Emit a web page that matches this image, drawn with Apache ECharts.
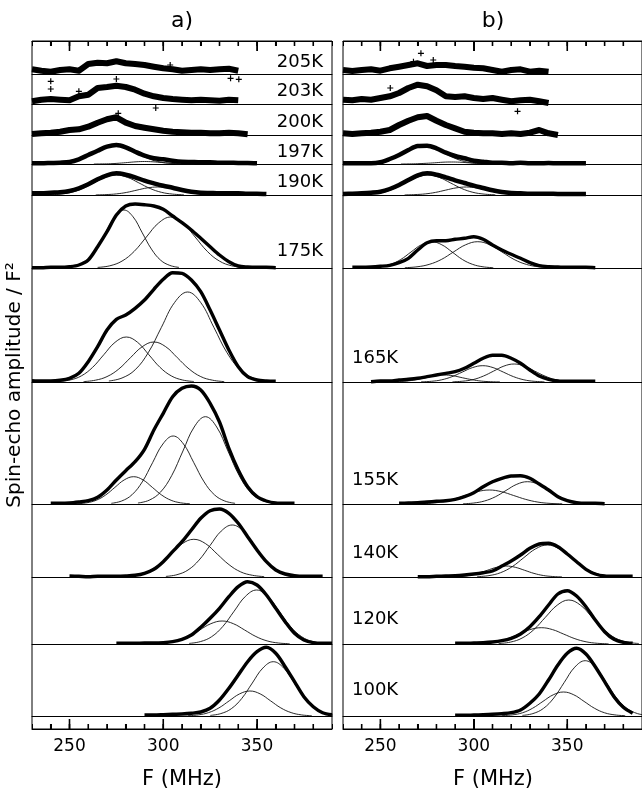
<!DOCTYPE html>
<html>
<head>
<meta charset="utf-8">
<script src="https://cdn.jsdelivr.net/npm/echarts@6/dist/echarts.min.js"></script>
<style>
html, body { margin: 0; padding: 0; background: #fff; }
#chart { width: 642px; height: 795px; }
</style>
</head>
<body>
<div id="chart"></div>
<script>
// one row per temperature, top to bottom
const temps = ['205K', '203K', '200K', '197K', '190K', '175K', '165K', '155K', '140K', '120K', '100K'];
const tickLabels = [250, 300, 350];
const minorTicks = [240, 250, 260, 270, 280, 290, 300, 310, 320, 330, 340, 350, 360, 370, 380];
const freqMin = 230, freqMax = 390, freqStep = 5;

// measured spin-echo amplitude, one value every 5 MHz from the start frequency
const startA = [230, 230, 230, 230, 230, 230, 230, 240, 250, 275, 290];
const echoA = [
    [4.7, 3.3, 2.3, 4, 4.7, 3.3, 10, 11.3, 10.7, 12.7, 10.7, 10, 9, 7.3, 5.7, 4.7, 3.3, 4, 4.7, 4, 4.7, 5.3, 3.3],
    [2.7, 4.3, 5, 4.3, 3.7, 7.7, 9.3, 16, 17, 18.3, 17, 14.3, 10.3, 7.7, 6, 5, 4.3, 3.7, 4.3, 3.7, 3.3, 4.3, 3.7],
    [1, 1.7, 2.3, 3.3, 5, 5.7, 8.3, 12.3, 15.7, 17.7, 12.3, 9, 7.3, 5.7, 4.3, 3.3, 2.7, 2.3, 2.3, 1.7, 1.7, 2.3, 1.7, 0.7],
    [0.7, 0.7, 1, 1.3, 2, 4.7, 9, 13.3, 17.3, 19, 16.7, 12.3, 8.3, 5.7, 4.7, 3.3, 2.3, 2, 1.7, 1.7, 1.3, 1.3, 1, 1, 0.7],
    [1.7, 1.7, 2.3, 2.7, 4, 6.7, 10.7, 15.7, 19.7, 21.7, 20.3, 17.7, 14.3, 11.7, 9.3, 7.3, 5, 3.3, 2.3, 2, 1.7, 1.7, 1.7, 1.3, 1.3, 1],
    [0.3, 0.3, 0.7, 0.7, 1.3, 3, 8, 21.3, 36.3, 53, 62, 64, 63.3, 62, 58.7, 52, 45.3, 38, 29.7, 21.3, 13, 6.3, 2, 1, 0.7, 0.7, 0.3],
    [1.3, 1, 1, 1.7, 3.7, 8.7, 20.3, 35.3, 52, 62.7, 67, 73.7, 82, 92.7, 102.7, 109.3, 108.7, 102, 90.3, 72, 52, 32, 15.3, 5.3, 2, 1, 0.7],
    [0.7, 0.7, 1, 2, 3.3, 6.7, 14, 24, 33.3, 42.3, 54.7, 74, 90.7, 107.3, 115.7, 118, 114, 100.7, 82, 55.7, 34, 17.3, 7.3, 3, 1, 0.7, 0.7],
    [1, 0.7, 0.3, 0.7, 0.7, 0.7, 1, 1.7, 3.7, 7.7, 15.3, 25.3, 35.3, 47, 58.7, 66.3, 68, 63.7, 53.7, 40.3, 27, 15.3, 7, 3, 1.3, 0.7, 0.7, 0.7],
    [0.7, 0.7, 0.7, 1, 1, 1.3, 2.3, 4.7, 9, 16.7, 25.7, 35.7, 47.3, 57.3, 62.3, 59, 49, 35.7, 22.3, 10.7, 4, 1.3, 0.7, 0.7],
    [1, 1, 1.3, 1.7, 2, 2.7, 4, 7.7, 16, 27.7, 41, 54.3, 64.3, 68.7, 62.7, 49.3, 34.3, 19.3, 9.3, 3.3, 1.3]
];
const startB = [230, 230, 230, 230, 230, 235, 245, 260, 270, 290, 290];
const echoB = [
    [4, 3, 4, 4.7, 3.3, 5.7, 7.3, 9, 10.7, 8, 9, 9, 8, 7.3, 6.3, 5.7, 4, 2.3, 4, 4.7, 2.3, 3.3, 2.3],
    [4.3, 3.7, 5, 4.3, 6, 7.7, 11, 16, 19.3, 17.7, 13.7, 7.7, 7, 7.7, 6, 5, 6, 4.3, 2.7, 3.7, 4.3, 2.7, 1],
    [1.7, 1, 1.7, 2.3, 3.3, 5, 10, 14.3, 17.7, 19, 14.3, 10, 6.7, 3.3, 2.3, 1.7, 1.7, 1, 1.7, 1, 2.3, 5, 1.7, 0],
    [0.7, 0.7, 0.7, 0.7, 1.7, 5, 9, 14, 18, 18.3, 15.7, 11.3, 8, 5.7, 3.3, 2.3, 1.3, 1.3, 0.7, 1.3, 0.7, 0.7, 1, 0.7, 0.7, 0.7, 0.7],
    [1, 1.3, 1.7, 2.3, 3.3, 6, 10, 15, 19.7, 21.7, 20.3, 17.7, 14.7, 12, 9.3, 7, 4.7, 3, 2, 1.7, 1.3, 1.3, 1.3, 1, 1, 1, 1],
    [0.7, 0.7, 1, 1.7, 2.7, 5.3, 9.7, 18, 25.3, 27.3, 27.3, 28.7, 29.7, 31.3, 28.7, 23, 18, 13.7, 9.7, 5.3, 2.3, 1.3, 1, 0.7, 0.7, 0.7, 0.3],
    [0.3, 1, 1, 2, 2.7, 3.7, 5.3, 7, 8.7, 10.3, 13.7, 18.7, 23.7, 26.7, 26.7, 23.7, 18.7, 12, 6, 2.7, 1, 0.7, 0.7, 0.7, 0.7],
    [0.7, 1, 1.3, 2, 2.7, 3.3, 4.7, 7.3, 11.3, 17.3, 22.3, 25.7, 28, 28.3, 25.7, 20, 14, 7.3, 3.3, 1.3, 0.7, 0.7, 0.3],
    [0.3, 0.3, 0.7, 1, 1.3, 2, 3, 4.3, 6, 11, 16, 22, 28.7, 33, 33.7, 30.3, 23, 15.3, 7.7, 3, 1, 0.7, 0.7, 0.7],
    [0.7, 0.7, 1, 1.3, 2, 3.3, 5.7, 10, 17.3, 27.3, 39, 50, 53.3, 48, 37.3, 24, 12.3, 4.7, 1.7, 0.7],
    [0.7, 0.7, 1, 1.3, 1.7, 2.3, 3.3, 6, 12.7, 22, 36, 51, 62.7, 67.7, 62, 49.3, 34.3, 19.3, 8.7, 2.7]
];

// stray echo points well off the trace, [MHz, amplitude]
const strayA = [
    [[303.7, 9], [335.9, -4.3], [340.3, -5.3]],
    [[240, 22.7], [240, 15], [255, 12.7], [275, 25], [296, -4]],
    [[276, 21.7]]
];
const strayB = [
    [[271.7, 20.7], [267.7, 12.3], [278.3, 14]],
    [[255.3, 16], [323.4, -7.3]],
    []
];

// fitted components, [MHz, amplitude]
const fitA = [
    [], [], [],
    [
        [[239.5, .2], [245.3, .8], [251, 2.5], [256.8, 6], [262.5, 11.2], [268.3, 16.3], [274, 18.5], [279.8, 16.3], [285.5, 11.2], [291.3, 6], [297, 2.5], [302.8, .8], [308.5, .2]],
        [[263, 0], [267.5, .1], [272, .3], [276.5, .8], [281, 1.5], [285.5, 2.2], [290, 2.5], [294.5, 2.2], [299, 1.5], [303.5, .8], [308, .3], [312.5, .1], [317, 0]]
    ],
    [
        [[239, .2], [245, .9], [251, 2.7], [257, 6.5], [263, 12.1], [269, 17.6], [275, 20], [281, 17.6], [287, 12.1], [293, 6.5], [299, 2.7], [305, .9], [311, .2]],
        [[264, .1], [269.5, .4], [275, 1.1], [280.5, 2.6], [286, 4.9], [291.5, 7.1], [297, 8], [302.5, 7.1], [308, 4.9], [313.5, 2.6], [319, 1.1], [324.5, .4], [330, .1]]
    ],
    [
        [[249.6, .6], [254.5, 2.6], [259.4, 7.8], [264.3, 18.9], [269.2, 35.2], [274.1, 51.2], [279, 58], [283.9, 51.2], [288.8, 35.2], [293.7, 18.9], [298.6, 7.8], [303.5, 2.6], [308.4, .6]],
        [[265, .6], [271.5, 2.2], [278, 6.9], [284.5, 16.6], [291, 31], [297.5, 45], [304, 51], [310.5, 45], [317, 31], [323.5, 16.6], [330, 6.9], [336.5, 2.2], [343, .6]]
    ],
    [
        [[244.3, .5], [250.3, 2], [256.3, 6.1], [262.3, 14.6], [268.3, 27.3], [274.3, 39.7], [280.3, 45], [286.3, 39.7], [292.3, 27.3], [298.3, 14.6], [304.3, 6.1], [310.3, 2], [316.3, .5]],
        [[257.5, .4], [263.8, 1.8], [270, 5.4], [276.3, 13], [282.5, 24.3], [288.8, 35.3], [295, 40], [301.3, 35.3], [307.5, 24.3], [313.8, 13], [320, 5.4], [326.3, 1.8], [332.5, .4]],
        [[271, 1], [278, 4], [285, 12.2], [292, 29.3], [299, 54.6], [306, 79.4], [313, 90], [320, 79.4], [327, 54.6], [334, 29.3], [341, 12.2], [348, 4], [355, 1]]
    ],
    [
        [[254.2, .3], [259.2, 1.2], [264.2, 3.7], [269.2, 8.9], [274.2, 16.6], [279.2, 24.1], [284.2, 27.3], [289.2, 24.1], [294.2, 16.6], [299.2, 8.9], [304.2, 3.7], [309.2, 1.2], [314.2, .3]],
        [[272.3, .7], [277.8, 3], [283.3, 9.2], [288.8, 22.1], [294.3, 41.3], [299.8, 60], [305.3, 68], [310.8, 60], [316.3, 41.3], [321.8, 22.1], [327.3, 9.2], [332.8, 3], [338.3, .7]],
        [[286.5, 1], [292.5, 3.8], [298.5, 11.8], [304.5, 28.4], [310.5, 53], [316.5, 77], [322.5, 87.3], [328.5, 77], [334.5, 53], [340.5, 28.4], [346.5, 11.8], [352.5, 3.8], [358.5, 1]]
    ],
    [
        [[278.8, .4], [285.1, 1.7], [291.3, 5.1], [297.6, 12.3], [303.8, 22.9], [310.1, 33.3], [316.3, 37.7], [322.6, 33.3], [328.8, 22.9], [335.1, 12.3], [341.3, 5.1], [347.6, 1.7], [353.8, .4]],
        [[301.4, .6], [307.3, 2.3], [313.2, 7], [319.1, 16.9], [325, 31.6], [330.9, 45.9], [336.8, 52], [342.7, 45.9], [348.6, 31.6], [354.5, 16.9], [360.4, 7], [366.3, 2.3], [372.2, .6]]
    ],
    [
        [[295.4, .3], [301.4, 1], [307.4, 3.1], [313.4, 7.5], [319.4, 14], [325.4, 20.3], [331.4, 23], [337.4, 20.3], [343.4, 14], [349.4, 7.5], [355.4, 3.1], [361.4, 1], [367.4, .3]],
        [[313.8, .6], [319.8, 2.4], [325.8, 7.3], [331.8, 17.6], [337.8, 32.8], [343.8, 47.6], [349.8, 54], [355.8, 47.6], [361.8, 32.8], [367.8, 17.6], [373.8, 7.3], [379.8, 2.4], [385.8, .6]]
    ],
    [
        [[313.2, .3], [318.7, 1.1], [324.2, 3.4], [329.7, 8.1], [335.2, 15.2], [340.7, 22.1], [346.2, 25], [351.7, 22.1], [357.2, 15.2], [362.7, 8.1], [368.2, 3.4], [373.7, 1.1], [379.2, .3]],
        [[325.1, .6], [330.7, 2.4], [336.3, 7.3], [341.9, 17.6], [347.5, 33], [353.1, 47.9], [358.7, 54.3], [364.3, 47.9], [369.9, 33], [375.5, 17.6], [381.1, 7.3], [386.7, 2.4], [392.3, .6]]
    ]
];
const fitB = [
    [], [], [],
    [
        [[240, .2], [245.5, .8], [251, 2.5], [256.5, 6], [262, 11.2], [267.5, 16.3], [273, 18.5], [278.5, 16.3], [284, 11.2], [289.5, 6], [295, 2.5], [300.5, .8], [306, .2]],
        [[261, 0], [265.5, .1], [270, .3], [274.5, .7], [279, 1.2], [283.5, 1.8], [288, 2], [292.5, 1.8], [297, 1.2], [301.5, .7], [306, .3], [310.5, .1], [315, 0]]
    ],
    [
        [[239.5, .2], [245.5, .9], [251.5, 2.7], [257.5, 6.5], [263.5, 12.1], [269.5, 17.6], [275.5, 20], [281.5, 17.6], [287.5, 12.1], [293.5, 6.5], [299.5, 2.7], [305.5, .9], [311.5, .2]],
        [[263, .1], [268.5, .4], [274, 1.1], [279.5, 2.6], [285, 4.9], [290.5, 7.1], [296, 8], [301.5, 7.1], [307, 4.9], [312.5, 2.6], [318, 1.1], [323.5, .4], [329, .1]]
    ],
    [
        [[244.4, .3], [249.9, 1.2], [255.4, 3.6], [260.9, 8.5], [266.4, 16], [271.9, 23.2], [277.4, 26.3], [282.9, 23.2], [288.4, 16], [293.9, 8.5], [299.4, 3.6], [304.9, 1.2], [310.4, .3]],
        [[263.1, .3], [269.6, 1.2], [276.1, 3.6], [282.6, 8.5], [289.1, 16], [295.6, 23.2], [302.1, 26.3], [308.6, 23.2], [315.1, 16], [321.6, 8.5], [328.1, 3.6], [334.6, 1.2], [341.1, .3]]
    ],
    [
        [[254, .1], [259, .3], [264, .9], [269, 2.3], [274, 4.2], [279, 6.2], [284, 7], [289, 6.2], [294, 4.2], [299, 2.3], [304, .9], [309, .3], [314, .1]],
        [[271.8, .2], [277.3, .7], [282.8, 2.2], [288.3, 5.3], [293.8, 9.9], [299.3, 14.4], [304.8, 16.3], [310.3, 14.4], [315.8, 9.9], [321.3, 5.3], [326.8, 2.2], [332.3, .7], [337.8, .2]],
        [[288.6, .2], [294.1, .8], [299.6, 2.4], [305.1, 5.9], [310.6, 10.9], [316.1, 15.9], [321.6, 18], [327.1, 15.9], [332.6, 10.9], [338.1, 5.9], [343.6, 2.4], [349.1, .8], [354.6, .2]]
    ],
    [
        [[269.3, .2], [275.8, .6], [282.3, 1.9], [288.8, 4.6], [295.3, 8.5], [301.8, 12.3], [308.3, 14], [314.8, 12.3], [321.3, 8.5], [327.8, 4.6], [334.3, 1.9], [340.8, .6], [347.3, .2]],
        [[294.2, .2], [300, 1], [305.7, 3], [311.5, 7.2], [317.2, 13.5], [323, 19.7], [328.7, 22.3], [334.5, 19.7], [340.2, 13.5], [346, 7.2], [351.7, 3], [357.5, 1], [363.2, .2]]
    ],
    [
        [[287.2, .1], [292.2, .5], [297.2, 1.5], [302.2, 3.6], [307.2, 6.7], [312.2, 9.7], [317.2, 11], [322.2, 9.7], [327.2, 6.7], [332.2, 3.6], [337.2, 1.5], [342.2, .5], [347.2, .1]],
        [[301.8, .4], [308.1, 1.4], [314.3, 4.3], [320.6, 10.4], [326.8, 19.4], [333.1, 28.2], [339.3, 32], [345.6, 28.2], [351.8, 19.4], [358.1, 10.4], [364.3, 4.3], [370.6, 1.4], [376.8, .4]]
    ],
    [
        [[300.1, .2], [306.1, .7], [312.1, 2.2], [318.1, 5.3], [324.1, 9.9], [330.1, 14.4], [336.1, 16.3], [342.1, 14.4], [348.1, 9.9], [354.1, 5.3], [360.1, 2.2], [366.1, .7], [372.1, .2]],
        [[313.3, .5], [319.6, 1.9], [325.8, 5.9], [332.1, 14.3], [338.3, 26.7], [344.6, 38.8], [350.8, 44], [357.1, 38.8], [363.3, 26.7], [369.6, 14.3], [375.8, 5.9], [382.1, 1.9], [388.3, .5]]
    ],
    [
        [[315, .3], [320.5, 1.1], [326, 3.2], [331.5, 7.8], [337, 14.6], [342.5, 21.2], [348, 24], [353.5, 21.2], [359, 14.6], [364.5, 7.8], [370, 3.2], [375.5, 1.1], [381, .3]],
        [[326, .6], [331.6, 2.4], [337.2, 7.5], [342.8, 18], [348.4, 33.6], [354, 48.8], [359.6, 55.3], [365.2, 48.8], [370.8, 33.6], [376.4, 18], [382, 7.5], [387.6, 2.4], [393.2, .6]]
    ]
];

// layout (pixels)
const frameTop = 41, frameBottom = 729, panelWidth = 300;
const panelLeft = [32, 343];
const baselines = [74, 104, 135, 164, 195, 268, 382, 504, 577, 644, 716];
const rowPad = 8;
const font = 'DejaVu Sans';
const plusSymbol = 'path://M4,0h2v4h4v2h-4v4h-2v-4h-4v-2h4z';

const panels = [
    {title: 'a)', start: startA, echo: echoA, fit: fitA, stray: strayA},
    {title: 'b)', start: startB, echo: echoB, fit: fitB, stray: strayB}
];
// which panel carries each temperature label
const labelPanel = [0, 0, 0, 0, 0, 0, 1, 1, 1, 1, 1];
const labelY = [62, 91, 122, 152, 182, 251, 358, 480, 553, 619, 690];

const grid = [], xAxis = [], yAxis = [], series = [], graphic = [];

// stacked rows: each spectrum gets its own little grid, its baseline is the x axis line
panels.forEach((p, pi) => {
    temps.forEach((t, i) => {
        const top = i === 0 ? frameTop : baselines[i - 1];
        const g = grid.length;
        grid.push({left: panelLeft[pi], width: panelWidth, top: top, height: baselines[i] - top + rowPad});
        xAxis.push({
            gridIndex: g, type: 'value', min: freqMin, max: freqMax,
            axisLine: {show: true, onZero: true, lineStyle: {color: '#000', width: 1}},
            axisTick: {show: false}, axisLabel: {show: false}, splitLine: {show: false}
        });
        yAxis.push({gridIndex: g, type: 'value', show: false, min: -rowPad, max: baselines[i] - top});
        const ax = xAxis.length - 1, ay = yAxis.length - 1;
        const noisy = i < 3;
        (p.fit[i] || []).forEach(c => series.push({
            type: 'line', xAxisIndex: ax, yAxisIndex: ay, data: c, smooth: 0.4,
            showSymbol: false, lineStyle: {color: '#111', width: 0.9}, z: 3
        }));
        series.push({
            type: 'line', xAxisIndex: ax, yAxisIndex: ay,
            data: p.echo[i].map((v, k) => [p.start[i] + k * freqStep, v]),
            smooth: noisy ? false : 0.3, showSymbol: false,
            lineStyle: {color: '#000', width: noisy ? 6 : (i < 5 ? 4.5 : 3.4), join: 'round'}, z: 4
        });
        if (p.stray[i] && p.stray[i].length) {
            series.push({
                type: 'scatter', xAxisIndex: ax, yAxisIndex: ay, data: p.stray[i],
                symbol: plusSymbol, symbolSize: 6, itemStyle: {color: '#000', opacity: 1}, z: 4
            });
        }
    });
    graphic.push({
        type: 'text', x: panelLeft[pi] + panelWidth / 2, y: 21,
        style: {text: p.title, font: '22px "DejaVu Sans"', fill: '#000', align: 'center', verticalAlign: 'middle'}
    });
    graphic.push({
        type: 'text', x: panelLeft[pi] + panelWidth / 2, y: 780,
        style: {text: 'F (MHz)', font: '21px "DejaVu Sans"', fill: '#000', align: 'center', verticalAlign: 'middle'}
    });
});

// frame of each panel: bordered grid with long ticks + labels, plain grid with short ticks,
// plus the same ticks as short bars on the frequency scale in case the axis ticks are dropped
panels.forEach((p, pi) => {
    let axBottom = 0, ayMajor = 0;
    [true, false].forEach(major => {
        const g = grid.length;
        grid.push({
            left: panelLeft[pi], top: frameTop, width: panelWidth, height: frameBottom - frameTop,
            show: major, borderColor: '#000', borderWidth: 1
        });
        ['bottom', 'top'].forEach(pos => {
            const ax = {
                gridIndex: g, type: 'value', min: freqMin, max: freqMax, position: pos,
                axisLine: {show: major, onZero: false, lineStyle: {color: '#000', width: 1}},
                splitLine: {show: false},
                axisTick: {show: true, inside: true, length: major ? 10 : 5, lineStyle: {color: '#000', width: 1}},
                axisLabel: {show: false}
            };
            if (major) {
                ax.axisTick.customValues = tickLabels;
                if (pos === 'bottom') {
                    axBottom = xAxis.length;
                    ax.axisLabel = {show: true, customValues: tickLabels, fontSize: 17, fontFamily: font, color: '#000', margin: 9};
                }
            } else {
                ax.interval = 10;
            }
            xAxis.push(ax);
        });
        if (major) ayMajor = yAxis.length;
        yAxis.push({gridIndex: g, type: 'value', show: false, min: 0, max: 1});
    });
    [[tickLabels, 10], [minorTicks, 5]].forEach(([vals, len]) => {
        [0, 1].forEach(edge => series.push({
            type: 'scatter', xAxisIndex: axBottom, yAxisIndex: ayMajor, silent: true, clip: false, z: 10,
            symbol: 'rect', symbolSize: [1.6, len], symbolOffset: [0, edge === 0 ? -len / 2 : len / 2],
            itemStyle: {color: '#000', opacity: 1}, emphasis: {disabled: true},
            data: vals.map(v => [v, edge])
        }));
    });
});

temps.forEach((t, i) => {
    const right = labelPanel[i] === 0;
    graphic.push({
        type: 'text', x: right ? panelLeft[0] + 291 : panelLeft[1] + 9, y: labelY[i],
        style: {text: t, font: '18px "DejaVu Sans"', fill: '#000', align: right ? 'right' : 'left', verticalAlign: 'middle'}
    });
});

graphic.push({
    type: 'text', x: 15, y: (frameTop + frameBottom) / 2, rotation: Math.PI / 2,
    style: {text: 'Spin-echo amplitude / F²', font: '20px "DejaVu Sans"', fill: '#000', align: 'center', verticalAlign: 'middle'}
});

const chart = echarts.init(document.getElementById('chart'), null, {renderer: 'canvas'});
chart.setOption({animation: false, backgroundColor: '#fff', grid, xAxis, yAxis, series, graphic});
</script>
</body>
</html>
